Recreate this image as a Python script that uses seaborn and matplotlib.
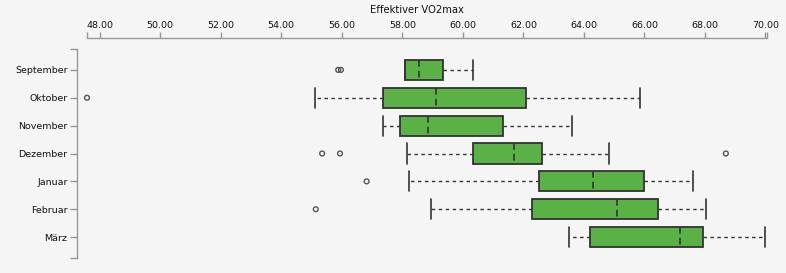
import matplotlib
matplotlib.use("Agg")
import matplotlib.pyplot as plt
import seaborn as sns
import numpy as np
import pandas as pd

months = ["September", "Oktober", "November", "Dezember", "Januar", "Februar", "März"]
whislo = [58.09, 55.11, 57.35, 58.15, 58.22, 58.95, 63.52]
q1 = [58.09, 57.35, 57.93, 60.32, 62.50, 62.30, 64.21]
med = [58.55, 59.11, 58.86, 61.69, 64.31, 65.10, 67.18]
q3 = [59.33, 62.08, 61.32, 62.60, 65.97, 66.46, 67.92]
whishi = [60.33, 65.86, 63.60, 64.84, 67.61, 68.05, 70.00]
outlier_month = ["September", "September", "Oktober", "Dezember", "Dezember", "Dezember", "Januar", "Februar"]
outlier_value = [55.88, 55.97, 47.58, 55.35, 55.94, 68.69, 56.82, 55.14]
x_ticks = [48, 50, 52, 54, 56, 58, 60, 62, 64, 66, 68, 70]
x_tick_labels = [f"{v:.2f}" for v in x_ticks]
title = "Effektiver VO2max"

sns.set_theme(style="ticks")
plt.rcParams["font.family"] = ["DejaVu Sans"]

BG = "#f5f5f5"
fig = plt.figure(figsize=(7.86, 2.73), dpi=100, facecolor=BG)
ax = fig.add_axes([87 / 786, 1 - 258 / 273, 680 / 786, 209 / 273])
ax.set_facecolor(BG)

stats = [dict(label=m, whislo=a, q1=b, med=c, q3=d, whishi=e, fliers=[])
         for m, a, b, c, d, e in zip(months, whislo, q1, med, q3, whishi)]
edge = "#333333"
ax.bxp(stats, positions=range(len(months)), orientation="horizontal", widths=0.72,
       patch_artist=True, showfliers=False,
       boxprops=dict(facecolor="#5ab145", edgecolor=edge, linewidth=1.3),
       medianprops=dict(color=edge, linewidth=1.2, linestyle=(0, (4, 2.5))),
       whiskerprops=dict(color=edge, linewidth=1.0, linestyle=(0, (2.5, 2.5))),
       capprops=dict(color=edge, linewidth=1.2), capwidths=0.72)

out_df = pd.DataFrame({"month": outlier_month, "value": outlier_value})
out_df["pos"] = [months.index(m) for m in out_df["month"]]
sns.scatterplot(data=out_df, x="value", y="pos", ax=ax, marker="o", s=12,
                facecolor="none", edgecolor="#555555", linewidth=1.0, legend=False,
                clip_on=False, zorder=5)

ax.set_xlim(47.58, 70.05)
ax.set_ylim(6.75, -0.75)
ax.set_yticks(range(len(months)))
ax.set_yticklabels(months)
ax.set_yticks([-0.75, 6.75], minor=True)
ax.xaxis.tick_top()
ax.set_xticks(x_ticks)
ax.set_xticklabels(x_tick_labels)
ax.set_xticks([47.58, 70.05], minor=True)
ax.set_xlabel("")
ax.set_ylabel("")

spine_col = "#999999"
for s in ["bottom", "right"]:
    ax.spines[s].set_visible(False)
ax.spines["top"].set_position(("outward", 8))
ax.spines["left"].set_position(("outward", 7))
for s in ["top", "left"]:
    ax.spines[s].set_color(spine_col)
    ax.spines[s].set_linewidth(1.0)

ax.tick_params(axis="x", which="both", top=True, bottom=False, length=4, width=1,
               color=spine_col, labelsize=6.8, pad=2, labelcolor="#111111")
ax.tick_params(axis="y", which="both", left=True, length=5, width=1,
               color=spine_col, labelsize=6.8, pad=2, labelcolor="#111111")

fig.text(417 / 786, 1 - 10 / 273, title, ha="center", va="center", fontsize=7.2, color="#111111")

fig.savefig("out.png", dpi=100, facecolor=BG)
